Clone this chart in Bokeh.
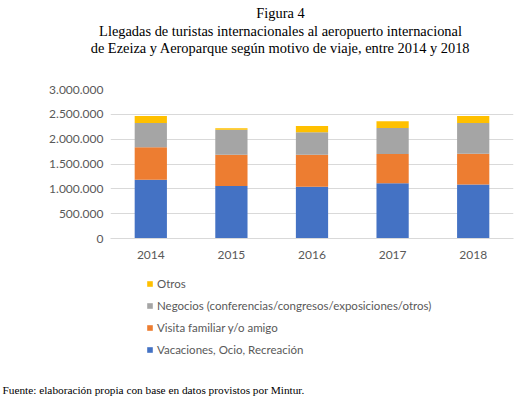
from bokeh.plotting import figure
from bokeh.layouts import column
from bokeh.models import (ColumnDataSource, FactorRange, Range1d, FixedTicker,
                          Legend, LegendItem, Label)
from bokeh.embed import file_html
from bokeh.resources import INLINE

years = ["2014", "2015", "2016", "2017", "2018"]
vacaciones = [1184000, 1056000, 1042000, 1110000, 1089000]
visita = [652000, 632000, 646000, 591000, 619000]
negocios = [491000, 504000, 451000, 525000, 619000]
otros = [141000, 27000, 127000, 134000, 141000]

series = ["vacaciones", "visita", "negocios", "otros"]
series_labels = ["Vacaciones, Ocio, Recreación", "Visita familiar y/o amigo",
                 "Negocios (conferencias/congresos/exposiciones/otros)", "Otros"]
colors = ["#4472C4", "#ED7D31", "#A5A5A5", "#FFC000"]
y_ticks = [0, 500000, 1000000, 1500000, 2000000, 2500000, 3000000]

title_lines = ["Figura 4",
               "Llegadas de turistas internacionales al aeropuerto internacional",
               "de Ezeiza y Aeroparque según motivo de viaje, entre 2014 y 2018"]
source_note = "Fuente: elaboración propia con base en datos provistos por Mintur."

src = ColumnDataSource(dict(years=years, vacaciones=vacaciones, visita=visita,
                            negocios=negocios, otros=otros))

W = 524
H_TOP, H_MAIN, H_BOT = 60, 208, 131


def blank(h):
    f = figure(width=W, height=h, x_range=Range1d(0, W), y_range=Range1d(h, 0),
               output_backend="svg", toolbar_location=None,
               x_axis_location=None, y_axis_location=None,
               min_border=0, min_border_left=0, min_border_right=0,
               min_border_top=0, min_border_bottom=0, frame_align=False)
    f.grid.visible = False
    f.outline_line_color = None
    f.background_fill_color = "white"
    f.border_fill_color = "white"
    return f


# --- title figure ---
ft = blank(H_TOP)
for txt, yy in zip(title_lines, [12, 30, 47]):
    ft.add_layout(Label(x=280, y=yy, text=txt, text_align="center",
                        text_baseline="middle", text_font="Liberation Serif",
                        text_font_size="14.4px", text_color="#000000"))

# --- main chart ---
p = figure(width=W, height=H_MAIN, x_range=FactorRange(*years),
           y_range=Range1d(0, 3000000), output_backend="svg",
           toolbar_location=None, frame_align=False,
           min_border_left=110, min_border_right=11,
           min_border_top=29, min_border_bottom=30)
p.outline_line_color = None
p.background_fill_color = "white"
p.border_fill_color = "white"

p.vbar_stack(series, x="years", width=0.4, color=colors, source=src,
             line_color=None)

p.x_range.range_padding = 0.0
p.xgrid.grid_line_color = None
p.ygrid.grid_line_color = "#D9D9D9"
p.ygrid.grid_line_width = 1

p.yaxis.ticker = FixedTicker(ticks=y_ticks)
p.yaxis.major_label_overrides = {t: f"{t:,}".replace(",", ".") for t in y_ticks}
p.yaxis.axis_line_color = None
p.yaxis.major_tick_line_color = None
p.yaxis.minor_tick_line_color = None
p.yaxis.major_tick_out = 0
p.yaxis.major_tick_in = 0
p.yaxis.major_label_standoff = 7
p.yaxis.major_label_text_font = "Lato"
p.yaxis.major_label_text_font_size = "12px"
p.yaxis.major_label_text_color = "#595959"

p.xaxis.axis_line_color = "#D9D9D9"
p.xaxis.major_tick_line_color = None
p.xaxis.minor_tick_line_color = None
p.xaxis.major_tick_out = 0
p.xaxis.major_tick_in = 0
p.xaxis.major_label_standoff = 12
p.xaxis.major_label_text_font = "Lato"
p.xaxis.major_label_text_font_size = "12px"
p.xaxis.major_label_text_color = "#595959"

# --- legend + source figure ---
fb = blank(H_BOT)
# zero-size proxy glyphs that only supply the legend swatch colours
swatches = [fb.rect(x=0, y=0, width=0, height=0, fill_color=c, line_color=None,
                    source=src)
            for c in colors]
items = [LegendItem(label=lab, renderers=[r])
         for lab, r in zip(series_labels, swatches)]
legend = Legend(items=items[::-1], location=(146, 43), orientation="vertical",
                padding=0, margin=0, spacing=8, label_height=14,
                glyph_width=7, glyph_height=7, label_standoff=4,
                border_line_color=None, background_fill_alpha=0,
                label_text_font="Lato", label_text_font_size="11.5px",
                label_text_color="#595959")
fb.add_layout(legend, "center")
fb.add_layout(Label(x=2, y=121, text=source_note, text_align="left",
                    text_baseline="middle", text_font="Liberation Serif",
                    text_font_size="11.3px", text_color="#000000"))

layout = column(ft, p, fb, spacing=0,
                styles={"position": "absolute", "left": "0px", "top": "0px"})

open("out.html", "w").write(file_html(layout, INLINE))
